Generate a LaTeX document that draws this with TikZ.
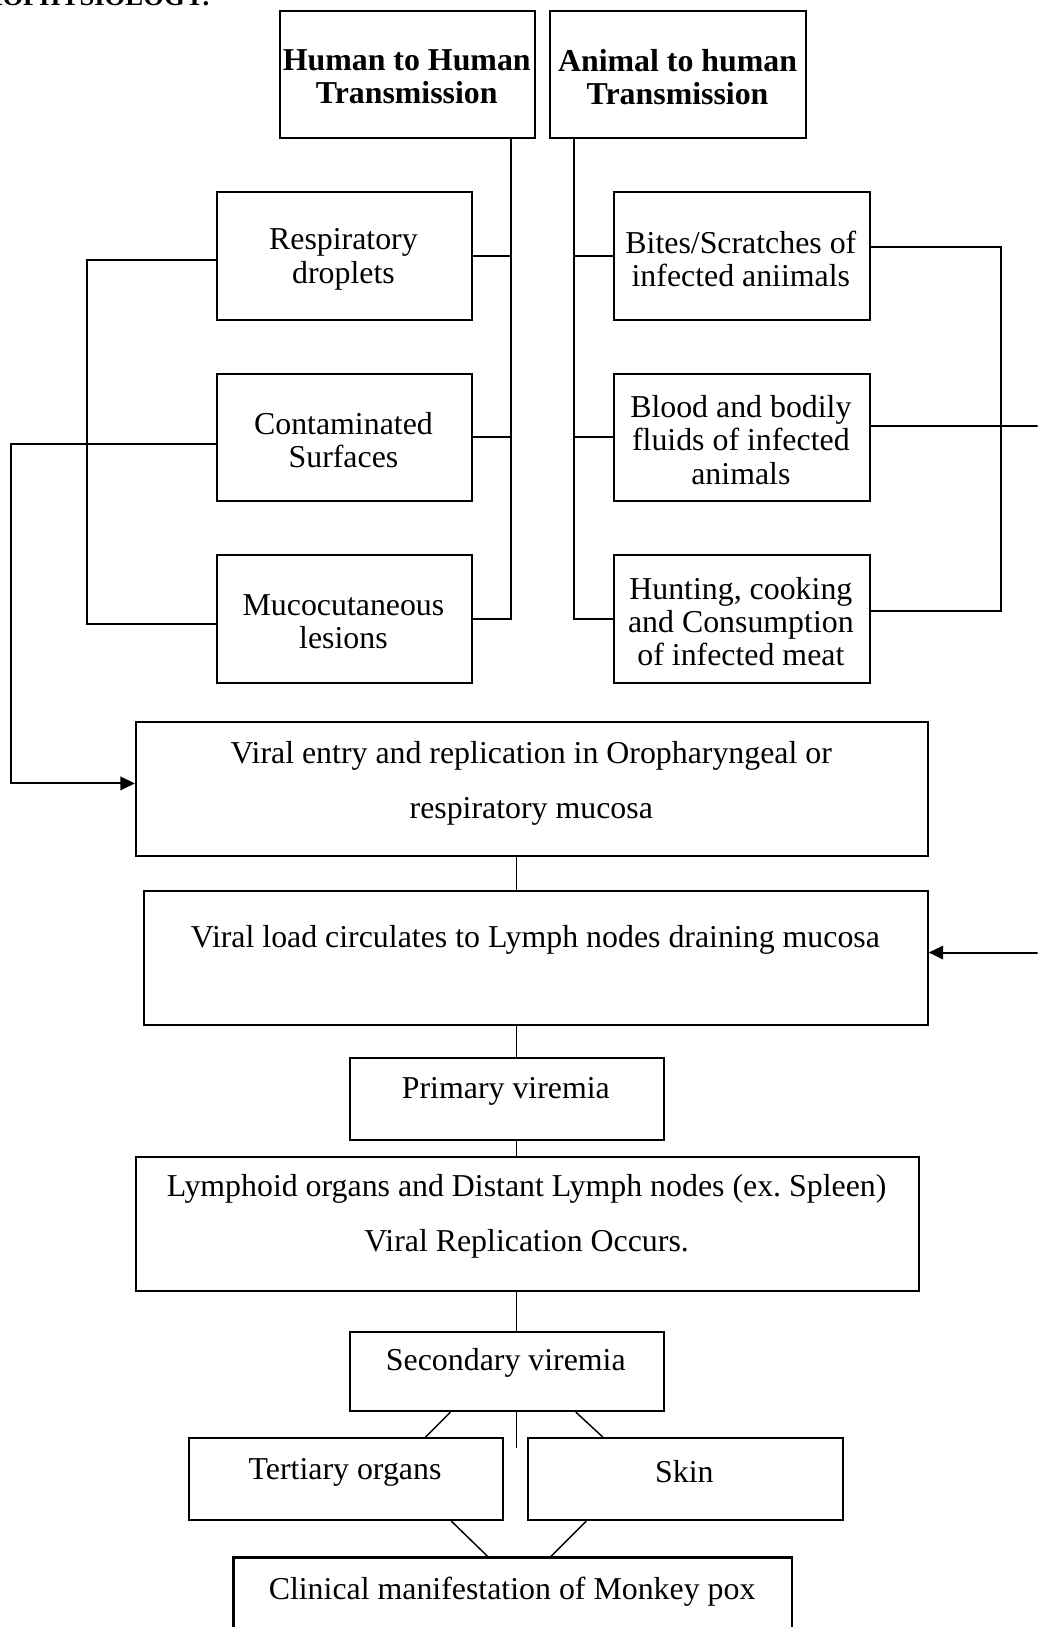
\documentclass[tikz,border=0pt]{standalone}
\usepackage{fontspec}
\setmainfont{Liberation Serif}
\usetikzlibrary{calc,arrows.meta}
\frenchspacing
\tikzset{
  box/.style={draw, line width=2.0pt, rectangle, inner sep=0pt, anchor=north west},
  txt/.style={inner sep=0pt, align=center, font=\fontsize{30.7}{32}\selectfont},
  dtxt/.style={inner sep=0pt, align=center, font=\fontsize{30.7}{53}\selectfont},
  htxt/.style={inner sep=0pt, align=center, font=\fontsize{30.7}{32}\selectfont\bfseries},
  headtxt/.style={inner sep=0pt, font=\fontsize{25.7}{28}\selectfont\bfseries},
  ln/.style={line width=1.9pt},
  thin/.style={line width=1.4pt},
  arr/.style={-{Triangle[length=14pt,width=13pt]}},
}
\begin{document}
\begin{tikzpicture}[x=1pt,y=-1pt]
\useasboundingbox (0,0) rectangle (1000,1568);
\begin{scope}
\clip (0,0) rectangle (1000,1568);
\fill[white] (0,0) rectangle (1000,1568);

% cut-off heading
\node[headtxt, anchor=base east] (head) at (203,5) {PATHOPHYSIOLOGY:};

% header boxes
\node[box, minimum width=246pt, minimum height=122pt] (h2h) at (269,10) {};
\node[htxt] (h2ht) at (392,74) {Human to Human\\Transmission};
\node[box, minimum width=247pt, minimum height=122pt] (a2h) at (529,10) {};
\node[htxt] (a2ht) at (653,74) {Animal to human\\Transmission};

% left column
\node[box, minimum width=246pt, minimum height=123pt] (resp) at (208,184) {};
\node[txt] (respt) at (331,250) {Respiratory\\droplets};
\node[box, minimum width=246pt, minimum height=123pt] (cont) at (208,359) {};
\node[txt] (contt) at (331,424) {Contaminated\\Surfaces};
\node[box, minimum width=246pt, minimum height=123pt] (muco) at (208,534) {};
\node[txt] (mucot) at (331,599) {Mucocutaneous\\lesions};

% right column
\node[box, minimum width=246pt, minimum height=123pt] (bites) at (591,184) {};
\node[txt] (bitest) at (714,249.5) {Bites/Scratches of\\infected aniimals};
\node[box, minimum width=246pt, minimum height=123pt] (blood) at (591,359) {};
\node[txt] (bloodt) at (714,424) {Blood and bodily\\fluids of infected\\animals};
\node[box, minimum width=246pt, minimum height=123pt] (hunt) at (591,534) {};
\node[txt] (huntt) at (714,599) {Hunting, cooking\\and Consumption\\of infected meat};

% main flow
\node[box, minimum width=763pt, minimum height=129pt] (entry) at (130,695) {};
\node[dtxt] (entryt) at (512,754.5) {Viral entry and replication in Oropharyngeal or\\respiratory mucosa};
\node[box, minimum width=755pt, minimum height=129pt] (load) at (138,858) {};
\node[txt] (loadt) at (516,906) {Viral load circulates to Lymph nodes draining mucosa};
\node[box, minimum width=303pt, minimum height=79pt] (prim) at (336,1019) {};
\node[txt] (primt) at (487.5,1052) {Primary viremia};
\node[box, minimum width=755pt, minimum height=129pt] (lymph) at (130,1114) {};
\node[dtxt] (lympht) at (507.5,1172.5) {Lymphoid organs and Distant Lymph nodes (ex. Spleen)\\Viral Replication Occurs.};
\node[box, minimum width=303pt, minimum height=76pt] (sec) at (336,1283) {};
\node[txt] (sect) at (487.5,1313) {Secondary viremia};
\node[box, minimum width=303pt, minimum height=79pt] (tert) at (181,1385) {};
\node[txt] (tertt) at (332.5,1419) {Tertiary organs};
\node[box, minimum width=303pt, minimum height=79pt] (skin) at (508,1385) {};
\node[txt] (skint) at (659.5,1418) {Skin};
\node[box, minimum width=538pt, minimum height=110pt] (clin) at (224,1500) {};
\node[txt] (clint) at (493.5,1534) {Clinical manifestation of Monkey pox};

% human-to-human bus
\coordinate (hb) at ($(h2h.south east)+(-25,0)$);
\draw[ln] (hb) -- (hb |- muco.east) -- (muco.east);
\draw[ln] (resp.east) -- (resp.east -| hb);
\draw[ln] (cont.east) -- (cont.east -| hb);

% animal-to-human bus
\coordinate (ab) at ($(a2h.south west)+(24,0)$);
\draw[ln] (ab) -- (ab |- hunt.west) -- (hunt.west);
\draw[ln] (bites.west) -- (bites.west -| ab);
\draw[ln] (blood.west) -- (blood.west -| ab);

% left brackets
\draw[ln] ($(resp.west)+(0,4.5)$) -- ++(-124,0) |- ($(muco.west)+(0,4.5)$);
\draw[ln, arr] ($(cont.west)+(0,6)$) -- ++(-197,0) |- ($(entry.west)+(0,-5.5)$);

% right brackets
\draw[ln] ($(bites.east)+(0,-8.5)$) -- ++(126,0) |- ($(hunt.east)+(0,-7.5)$);
\draw[ln, arr] ($(blood.east)+(0,-10.5)$) -- ++(180,0) |- ($(load.east)+(0,-5.5)$);

% vertical flow connectors
\coordinate (c1) at ($(entry.south west)+(368,0)$);
\draw[thin] (c1) -- (c1 |- load.north);
\coordinate (c2) at ($(load.south west)+(360,0)$);
\draw[thin] (c2) -- (c2 |- prim.north);
\coordinate (c3) at ($(prim.south west)+(162,0)$);
\draw[thin] (c3) -- (c3 |- lymph.north);
\coordinate (c4) at ($(lymph.south west)+(368,0)$);
\draw[thin] (c4) -- (c4 |- sec.north);
\coordinate (c5) at ($(sec.south west)+(162,0)$);
\coordinate (dang) at ($(c5)+(0,34)$);
\draw[thin] (c5) -- (dang);

% diagonals
\draw[thin] ($(sec.south west)+(98,0)$) -- ($(tert.north west)+(229,0)$);
\draw[thin] ($(sec.south west)+(219,0)$) -- ($(skin.north west)+(73,0)$);
\draw[thin] ($(tert.south west)+(254,0)$) -- ($(clin.north west)+(246,0)$);
\draw[thin] ($(skin.south west)+(57,0)$) -- ($(clin.north west)+(307,0)$);
\end{scope}
\end{tikzpicture}
\end{document}
